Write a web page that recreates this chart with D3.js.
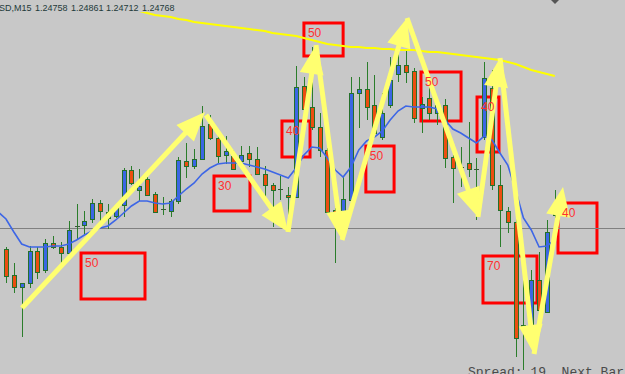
<!DOCTYPE html>
<html>
<head>
<meta charset="utf-8">
<script src="https://cdn.jsdelivr.net/npm/d3@7"></script>
<style>
  html, body { margin: 0; padding: 0; background: #c8c8c8; overflow: hidden; }
  svg { display: block; }
</style>
</head>
<body>
<div id="chart"></div>
<script>
// GBPUSD M15 – Kerzen (open/high/low/close), Bar-Index 0..70
const opens = [
  1.24502,1.24450,1.24426,1.24434,1.24498,1.24460,1.24514,1.24506,1.24494,1.24548,
  1.24550,1.24562,1.24594,1.24576,1.24568,1.24590,1.24660,1.24620,1.24642,1.24612,
  1.24582,1.24578,1.24598,1.24678,1.24668,1.24682,1.24752,1.24724,1.24690,1.24688,
  1.24678,1.24694,1.24682,1.24652,1.24630,1.24622,1.24610,1.24606,1.24828,1.24786,
  1.24746,1.24700,1.24580,1.24574,1.24600,1.24814,1.24822,1.24790,1.24726,1.24790,
  1.24852,1.24870,1.24858,1.24784,1.24804,1.24774,1.24790,1.24686,1.24666,1.24674,
  1.24662,1.24726,1.24824,1.24630,1.24578,1.24556,1.24346,1.24350,1.24440,1.24376,
  1.24570
];
const highs = [
  1.24506,1.24474,1.24434,1.24508,1.24506,1.24522,1.24528,1.24516,1.24558,1.24592,
  1.24578,1.24602,1.24600,1.24592,1.24590,1.24664,1.24668,1.24662,1.24646,1.24616,
  1.24606,1.24602,1.24686,1.24714,1.24702,1.24788,1.24770,1.24728,1.24728,1.24700,
  1.24708,1.24708,1.24706,1.24668,1.24634,1.24648,1.24626,1.24868,1.24846,1.24906,
  1.24774,1.24704,1.24584,1.24646,1.24846,1.24846,1.24876,1.24850,1.24814,1.24886,
  1.24900,1.24900,1.24864,1.24806,1.24834,1.24796,1.24802,1.24690,1.24706,1.24756,
  1.24684,1.24876,1.24860,1.24670,1.24586,1.24580,1.24466,1.24460,1.24496,1.24560,
  1.24620
];
const lows = [
  1.24434,1.24414,1.24326,1.24424,1.24442,1.24454,1.24502,1.24468,1.24494,1.24520,
  1.24532,1.24554,1.24556,1.24542,1.24564,1.24566,1.24630,1.24598,1.24608,1.24574,
  1.24570,1.24566,1.24592,1.24644,1.24662,1.24680,1.24720,1.24674,1.24672,1.24660,
  1.24668,1.24666,1.24650,1.24606,1.24546,1.24600,1.24540,1.24604,1.24774,1.24740,
  1.24686,1.24572,1.24474,1.24568,1.24598,1.24744,1.24760,1.24730,1.24720,1.24784,
  1.24836,1.24834,1.24754,1.24734,1.24760,1.24750,1.24664,1.24594,1.24626,1.24646,
  1.24560,1.24720,1.24620,1.24506,1.24534,1.24286,1.24260,1.24346,1.24374,1.24374,
  1.24564
];
const closes = [
  1.24448,1.24426,1.24434,1.24498,1.24456,1.24514,1.24506,1.24494,1.24540,1.24548,
  1.24558,1.24594,1.24578,1.24564,1.24586,1.24660,1.24634,1.24628,1.24610,1.24576,
  1.24582,1.24598,1.24680,1.24668,1.24682,1.24748,1.24724,1.24688,1.24698,1.24662,
  1.24690,1.24682,1.24652,1.24630,1.24620,1.24622,1.24606,1.24826,1.24782,1.24746,
  1.24700,1.24576,1.24576,1.24602,1.24814,1.24822,1.24786,1.24734,1.24774,1.24840,
  1.24870,1.24856,1.24764,1.24792,1.24774,1.24790,1.24684,1.24664,1.24666,1.24662,
  1.24662,1.24844,1.24630,1.24580,1.24556,1.24324,1.24350,1.24440,1.24380,1.24536,
  1.24590
];

// schneller MA (blau), ab Bar -1
const maFastStart = -1;
const maFast = [
  1.24576,
  1.24562,1.24536,1.24512,1.24506,1.24506,1.24506,1.24508,1.24508,1.24512,1.24520,
  1.24530,1.24538,1.24544,1.24548,1.24560,1.24574,1.24588,1.24598,1.24598,1.24594,
  1.24592,1.24594,1.24608,1.24622,1.24634,1.24652,1.24664,1.24672,1.24674,1.24674,
  1.24674,1.24670,1.24666,1.24662,1.24656,1.24650,1.24644,1.24664,1.24690,1.24706,
  1.24704,1.24684,1.24660,1.24646,1.24666,1.24700,1.24718,1.24726,1.24738,1.24760,
  1.24778,1.24788,1.24786,1.24786,1.24786,1.24782,1.24760,1.24742,1.24734,1.24724,
  1.24714,1.24728,1.24720,1.24694,1.24670,1.24620,1.24564,1.24540,1.24506,1.24508,
  1.24520
];
// langsamer MA (gelb), ab Bar 12
const maSlowStart = 12;
const maSlow = [
  1.25000,1.24996,1.24992,1.24988,1.24984,1.24978,1.24974,1.24970,
  1.24968,1.24966,1.24962,1.24960,1.24956,1.24954,1.24952,1.24950,1.24948,1.24946,
  1.24944,1.24942,1.24940,1.24938,1.24934,1.24932,1.24930,1.24928,1.24924,1.24920,
  1.24916,1.24912,1.24910,1.24908,1.24906,1.24906,1.24904,1.24904,1.24902,1.24902,
  1.24900,1.24900,1.24900,1.24898,1.24896,1.24896,1.24894,1.24892,1.24890,1.24888,
  1.24886,1.24884,1.24882,1.24880,1.24876,1.24872,1.24866,1.24860,1.24856,1.24852,
  1.24848
];

const levelLine = 1.24544;

// Markierungen: [barVon, barBis, preisOben, preisUnten, text]
const boxes = [
  [9.57, 17.73, 1.24494, 1.24402, "50"],
  [26.53, 31.12, 1.24648, 1.24578, "30"],
  [35.2, 38.78, 1.24758, 1.24686, "40"],
  [38.0, 43.0, 1.24954, 1.24888, "50"],
  [45.9, 49.5, 1.24708, 1.24616, "50"],
  [52.93, 58.04, 1.24856, 1.24758, "50"],
  [60.08, 62.88, 1.24806, 1.24696, "40"],
  [60.84, 67.73, 1.24488, 1.24394, "70"],
  [70.41, 75.38, 1.24594, 1.24494, "40"]
];

// Pfeile: [bar, preis] -> [bar, preis]
const arrows = [
  [[2.04, 1.24384], [25.38, 1.24776]],
  [[25.51, 1.24770], [35.97, 1.24536]],
  [[35.97, 1.24536], [39.54, 1.24910]],
  [[39.54, 1.24910], [42.86, 1.24520]],
  [[42.86, 1.24520], [51.15, 1.24964]],
  [[51.15, 1.24964], [60.2, 1.24566]],
  [[60.2, 1.24566], [63.01, 1.24884]],
  [[63.01, 1.24884], [67.35, 1.24292]],
  [[67.35, 1.24292], [71.05, 1.24626]]
];

const headerParts = ["SD,M15", "1.24758", "1.24861", "1.24712", "1.24768"];
const headerX = [-1, 35, 71, 106, 142];

const width = 625, height = 374;

const x = d3.scaleLinear().domain([0, 70]).range([6, 554.8]);
const y = d3.scaleLinear().domain([1.24252, 1.25]).range([height, 0]);

const svg = d3.select("#chart").append("svg")
  .attr("width", width)
  .attr("height", height);

svg.append("rect").attr("width", width).attr("height", height).attr("fill", "#c8c8c8");

// Boxen
svg.append("g")
  .selectAll("rect")
  .data(boxes)
  .join("rect")
  .attr("x", d => x(d[0]))
  .attr("y", d => y(d[2]))
  .attr("width", d => x(d[1]) - x(d[0]))
  .attr("height", d => y(d[3]) - y(d[2]))
  .attr("fill", "none")
  .attr("stroke", "#ff0000")
  .attr("stroke-width", 3);

// Horizontale Linie
svg.append("line")
  .attr("x1", 0).attr("x2", width)
  .attr("y1", Math.round(y(levelLine)) + 0.5)
  .attr("y2", Math.round(y(levelLine)) + 0.5)
  .attr("stroke", "#808080")
  .attr("stroke-width", 1);

// Kerzen
const bars = d3.range(opens.length);
const px = i => Math.round(x(i)) + 0.5;
const candles = svg.append("g").attr("shape-rendering", "crispEdges");

candles.selectAll("line.wick")
  .data(bars)
  .join("line")
  .attr("class", "wick")
  .attr("x1", px).attr("x2", px)
  .attr("y1", i => Math.round(y(highs[i])))
  .attr("y2", i => Math.round(y(lows[i])))
  .attr("stroke", "#2b7d2b");

candles.selectAll("rect")
  .data(bars.filter(i => opens[i] !== closes[i]))
  .join("rect")
  .attr("x", i => px(i) - 2)
  .attr("y", i => Math.round(y(Math.max(opens[i], closes[i]))) + 0.5)
  .attr("width", 4)
  .attr("height", i => Math.max(1, Math.round(Math.abs(y(opens[i]) - y(closes[i])))))
  .attr("fill", i => closes[i] > opens[i] ? "#3b66e4" : "#ec4e10")
  .attr("stroke", "#24702a");

candles.selectAll("line.doji")
  .data(bars.filter(i => opens[i] === closes[i]))
  .join("line")
  .attr("class", "doji")
  .attr("x1", i => px(i) - 2.5).attr("x2", i => px(i) + 2.5)
  .attr("y1", i => Math.round(y(opens[i])) + 0.5)
  .attr("y2", i => Math.round(y(opens[i])) + 0.5)
  .attr("stroke", "#3a5a3a");

// Gleitende Durchschnitte
svg.append("path")
  .datum(maFast)
  .attr("fill", "none")
  .attr("stroke", "#3d66e6")
  .attr("stroke-width", 1.6)
  .attr("d", d3.line().x((d, i) => x(i + maFastStart)).y(d => y(d)));

svg.append("path")
  .datum(maSlow)
  .attr("fill", "none")
  .attr("stroke", "#ffff00")
  .attr("stroke-width", 2)
  .attr("d", d3.line().x((d, i) => x(i + maSlowStart)).y(d => y(d)));

// Pfeile
const headLen = 29, headW = 12;
const arrowG = svg.append("g").attr("fill", "#ffff70").attr("stroke", "#ffff70");
arrows.forEach(([a, b]) => {
  const x0 = x(a[0]), y0 = y(a[1]), x1 = x(b[0]), y1 = y(b[1]);
  const dx = x1 - x0, dy = y1 - y0, len = Math.hypot(dx, dy);
  const ux = dx / len, uy = dy / len;
  const bx = x1 - ux * headLen, by = y1 - uy * headLen;
  arrowG.append("line")
    .attr("x1", x0).attr("y1", y0)
    .attr("x2", bx + ux * 2).attr("y2", by + uy * 2)
    .attr("stroke-width", 5);
  arrowG.append("polygon")
    .attr("stroke", "none")
    .attr("points", [
      [x1, y1],
      [bx - uy * headW, by + ux * headW],
      [bx + uy * headW, by - ux * headW]
    ].map(p => p.join(",")).join(" "));
});

// Box-Beschriftungen oben
svg.append("g")
  .selectAll("text")
  .data(boxes)
  .join("text")
  .attr("x", d => x(d[0]) + 4)
  .attr("y", d => y(d[2]) + 14)
  .attr("font-family", "Liberation Sans, Arial, sans-serif")
  .attr("font-size", "12px")
  .attr("fill", "#ff3030")
  .text(d => d[4]);

// Kopfzeile (mit Hintergrund)
svg.append("rect")
  .attr("x", 0).attr("y", 0)
  .attr("width", 146).attr("height", 12)
  .attr("fill", "#c8c8c8");
svg.append("g")
  .selectAll("text")
  .data(headerParts)
  .join("text")
  .attr("x", (d, i) => headerX[i])
  .attr("y", 11)
  .attr("font-family", "Liberation Sans, Arial, sans-serif")
  .attr("font-size", "9px")
  .attr("fill", "#1e3a3a")
  .text(d => d);

// kleines Symbol oben rechts
svg.append("polygon")
  .attr("points", "551,0 559,0 555,4")
  .attr("fill", "#555555");

// Spread-Anzeige unten (wie im Original am Rand angeschnitten)
svg.append("text")
  .attr("x", 468)
  .attr("y", 376)
  .attr("font-family", "Liberation Mono, Courier New, monospace")
  .attr("font-size", "13px")
  .attr("fill", "#4a4a4a")
  .attr("xml:space", "preserve")
  .style("white-space", "pre")
  .text("Spread: 19  Next Bar");
</script>
</body>
</html>
